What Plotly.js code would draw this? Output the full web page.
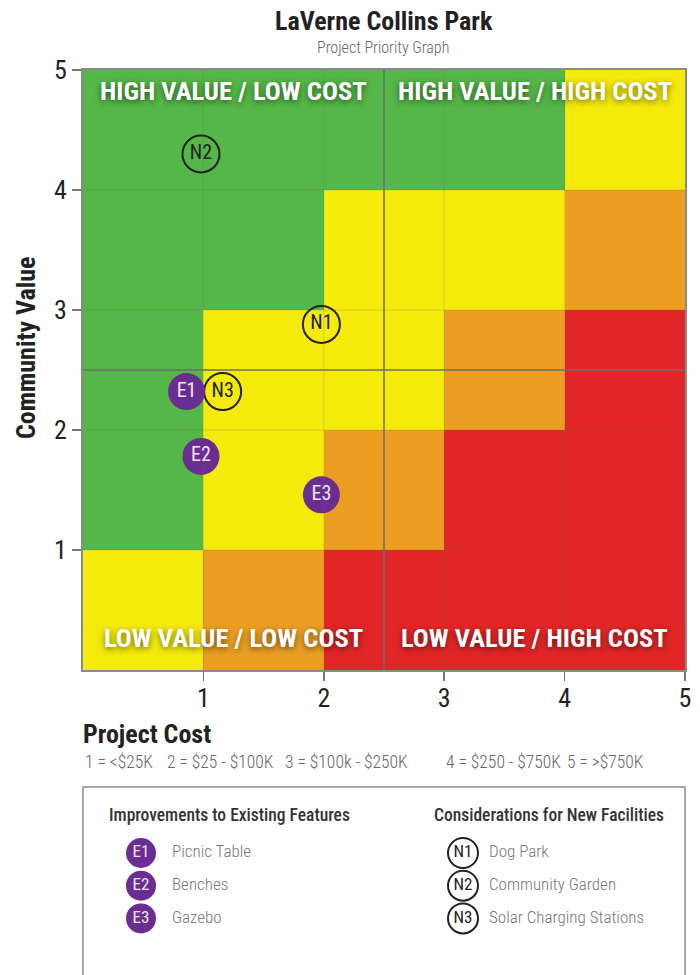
<!DOCTYPE html>
<html>
<head>
<meta charset="utf-8">
<script src="https://cdn.plot.ly/plotly-3.0.1.min.js"></script>
<style>html,body{margin:0;padding:0;background:#fff;}#chart{width:700px;height:975px;}</style>
</head>
<body>
<div id="chart"></div>
<script>
// ---- DATA ----
const zoneX = [0.5, 1.5, 2.5, 3.5, 4.5];
const zoneY = [0.5, 1.5, 2.5, 3.5, 4.5];
// 0 = green, 1 = yellow, 2 = orange, 3 = red (rows bottom -> top)
const zoneLevels = [
  [1, 2, 3, 3, 3],
  [0, 1, 2, 3, 3],
  [0, 1, 1, 2, 3],
  [0, 0, 1, 1, 2],
  [0, 0, 0, 0, 1]
];
const zoneColors = ['#55b748', '#f4ea0c', '#eb9e22', '#e22627'];

const existingCodes = ['E1', 'E2', 'E3'];
const existingNames = ['Picnic Table', 'Benches', 'Gazebo'];
const existingCost  = [0.86, 0.98, 1.98];
const existingValue = [2.32, 1.78, 1.46];

const newCodes = ['N1', 'N2', 'N3'];
const newNames = ['Dog Park', 'Community Garden', 'Solar Charging Stations'];
const newCost  = [1.98, 0.98, 1.16];
const newValue = [2.88, 4.30, 2.32];

const tickVals = [1, 2, 3, 4, 5];
const divider = 2.5;
const quadrantLabels = ['HIGH VALUE / LOW COST', 'HIGH VALUE / HIGH COST', 'LOW VALUE / LOW COST', 'LOW VALUE / HIGH COST'];
const quadrantX = [1.25, 3.75, 1.25, 3.75];
const quadrantY = [4.83, 4.83, 0.27, 0.27];
const costLegend = ['1 = <$25K', '2 = $25 - $100K', '3 = $100k - $250K', '4 = $250 - $750K', '5 = >$750K'];
const groupTitles = ['Improvements to Existing Features', 'Considerations for New Facilities'];

// ---- STYLE ----
const COND = '"Roboto Condensed", "Liberation Sans Narrow", "Arial Narrow", "DejaVu Sans Condensed", Roboto, sans-serif';
const PURPLE = '#6a2d91';
const W = 700, H = 975;
const px = v => v / W;
const py = v => (H - v) / H;

const n = zoneColors.length;
const cs = [];
zoneColors.forEach((c, i) => { cs.push([i / n, c]); cs.push([(i + 1) / n, c]); });

// legend axis mapping: group 0 at px 141, group 1 at px 463; rows at 853 + 33*i
const legX0 = 141, legX1 = 463;
const unitX = legX1 - legX0;
const x2min = -legX0 / unitX, x2max = x2min + W / unitX;
const unitY = 32.7;
const legTop = 790, legBot = 975;
const y2top = -(853 - legTop) / unitY;
const y2bot = y2top + (legBot - legTop) / unitY;

const traces = [
  {
    type: 'heatmap', x: zoneX, y: zoneY, z: zoneLevels,
    zmin: -0.5, zmax: n - 0.5, colorscale: cs, showscale: false, hoverinfo: 'skip'
  },
  {
    type: 'scatter', mode: 'markers+text', x: newCost, y: newValue, text: newCodes,
    textposition: 'middle center',
    textfont: {family: COND, size: 20, color: '#222'},
    marker: {size: 37, color: 'rgba(0,0,0,0)', line: {color: '#222', width: 2}},
    showlegend: false, hoverinfo: 'skip', cliponaxis: false
  },
  {
    type: 'scatter', mode: 'markers+text', x: existingCost, y: existingValue, text: existingCodes,
    textposition: 'middle center',
    textfont: {family: COND, size: 20, color: '#efe6f5'},
    marker: {size: 37, color: PURPLE, line: {width: 0}},
    showlegend: false, hoverinfo: 'skip', cliponaxis: false
  },
  // legend markers (second axis pair under the chart)
  {
    type: 'scatter', mode: 'markers+text', xaxis: 'x2', yaxis: 'y2',
    x: existingCodes.map(() => 0), y: existingCodes.map((_, i) => i), text: existingCodes,
    textposition: 'middle center', textfont: {family: COND, size: 17, color: '#efe6f5'},
    marker: {size: 30, color: PURPLE}, showlegend: false, hoverinfo: 'skip', cliponaxis: false
  },
  {
    type: 'scatter', mode: 'text', xaxis: 'x2', yaxis: 'y2',
    x: existingNames.map(() => 31 / unitX), y: existingNames.map((_, i) => i), text: existingNames,
    textposition: 'middle right', textfont: {family: COND, size: 17, color: '#777', weight: 300},
    showlegend: false, hoverinfo: 'skip', cliponaxis: false
  },
  {
    type: 'scatter', mode: 'markers+text', xaxis: 'x2', yaxis: 'y2',
    x: newCodes.map(() => 1), y: newCodes.map((_, i) => i), text: newCodes,
    textposition: 'middle center', textfont: {family: COND, size: 17, color: '#222'},
    marker: {size: 30, color: 'rgba(0,0,0,0)', line: {color: '#222', width: 2}},
    showlegend: false, hoverinfo: 'skip', cliponaxis: false
  },
  {
    type: 'scatter', mode: 'text', xaxis: 'x2', yaxis: 'y2',
    x: newNames.map(() => 1 + 26 / unitX), y: newNames.map((_, i) => i), text: newNames,
    textposition: 'middle right', textfont: {family: COND, size: 17, color: '#777', weight: 300},
    showlegend: false, hoverinfo: 'skip', cliponaxis: false
  }
];

const shapes = [];
tickVals.slice(0, -1).forEach(v => {
  shapes.push({type: 'line', xref: 'x', yref: 'paper', x0: v, x1: v, y0: py(670), y1: py(70), line: {color: 'rgba(110,110,110,0.22)', width: 1}, layer: 'above'});
  shapes.push({type: 'line', xref: 'paper', yref: 'y', x0: px(83), x1: px(685), y0: v, y1: v, line: {color: 'rgba(110,110,110,0.22)', width: 1}, layer: 'above'});
});
shapes.push({type: 'line', xref: 'x', yref: 'y', x0: divider, x1: divider, y0: 0, y1: 5, line: {color: '#6d6d6d', width: 1.5}, layer: 'above'});
shapes.push({type: 'line', xref: 'x', yref: 'y', x0: 0, x1: 5, y0: divider, y1: divider, line: {color: '#6d6d6d', width: 1.5}, layer: 'above'});
// legend box
shapes.push({type: 'rect', xref: 'paper', yref: 'paper', x0: px(83), x1: px(685), y0: py(985), y1: py(787), line: {color: '#8a8a8a', width: 1.5}, fillcolor: 'rgba(0,0,0,0)'});

const annotations = [
  {text: '<b>LaVerne Collins Park</b>', x: px(384), y: py(21), xref: 'paper', yref: 'paper', showarrow: false, font: {family: COND, size: 26, color: '#222'}, xanchor: 'center', yanchor: 'middle'},
  {text: 'Project Priority Graph', x: px(383), y: py(48), xref: 'paper', yref: 'paper', showarrow: false, font: {family: COND, size: 16, color: '#666', weight: 300}, xanchor: 'center', yanchor: 'middle'},
  {text: '<b>Community Value</b>', x: px(26), y: py(348), xref: 'paper', yref: 'paper', textangle: -90, showarrow: false, font: {family: COND, size: 26, color: '#222'}, xanchor: 'center', yanchor: 'middle'},
  {text: '<b>Project Cost</b>', x: px(81), y: py(734), xref: 'paper', yref: 'paper', showarrow: false, font: {family: COND, size: 26, color: '#222'}, xanchor: 'left', yanchor: 'middle'}
];
quadrantLabels.forEach((t, i) => {
  annotations.push({text: '<b>' + t + '</b>', x: quadrantX[i], y: quadrantY[i], xref: 'x', yref: 'y', showarrow: false,
    font: {family: COND, size: 26.5, color: '#ffffff', shadow: '0px 2px 6px rgba(0,0,0,0.55)'}, xanchor: 'center', yanchor: 'middle'});
});
const costStarts = [83, 165, 283, 444, 565];
costLegend.forEach((t, i) => {
  annotations.push({text: t, x: px(costStarts[i]), y: py(762), xref: 'paper', yref: 'paper', showarrow: false,
    font: {family: COND, size: 17.5, color: '#666', weight: 300}, xanchor: 'left', yanchor: 'middle'});
});
const groupStarts = [107, 432];
groupTitles.forEach((t, i) => {
  annotations.push({text: t, x: px(groupStarts[i]), y: py(815), xref: 'paper', yref: 'paper', showarrow: false,
    font: {family: COND, size: 17.5, color: '#333', weight: 500}, xanchor: 'left', yanchor: 'middle'});
});

const axisCommon = {
  range: [0, 5], tickvals: tickVals, ticktext: tickVals.map(String),
  showgrid: false, zeroline: false, showline: true, mirror: true, linecolor: '#8a8a8a', linewidth: 2,
  ticks: 'outside', ticklen: 9, tickcolor: '#777', tickwidth: 1.5,
  tickfont: {family: COND, size: 26, color: '#222'}, fixedrange: true
};

const layout = {
  width: W, height: H,
  margin: {l: 0, r: 0, t: 0, b: 0},
  paper_bgcolor: '#fff', plot_bgcolor: '#fff',
  showlegend: false,
  xaxis: Object.assign({}, axisCommon, {domain: [px(83), px(685)], anchor: 'y', ticklabelstandoff: -5}),
  yaxis: Object.assign({}, axisCommon, {domain: [py(670), py(70)], anchor: 'x'}),
  xaxis2: {domain: [0, 1], range: [x2min, x2max], visible: false, anchor: 'y2', fixedrange: true},
  yaxis2: {domain: [0, py(legTop)], range: [y2bot, y2top], visible: false, anchor: 'x2', fixedrange: true},
  shapes: shapes,
  annotations: annotations
};

Plotly.newPlot('chart', traces, layout, {displayModeBar: false, staticPlot: true});
</script>
</body>
</html>
